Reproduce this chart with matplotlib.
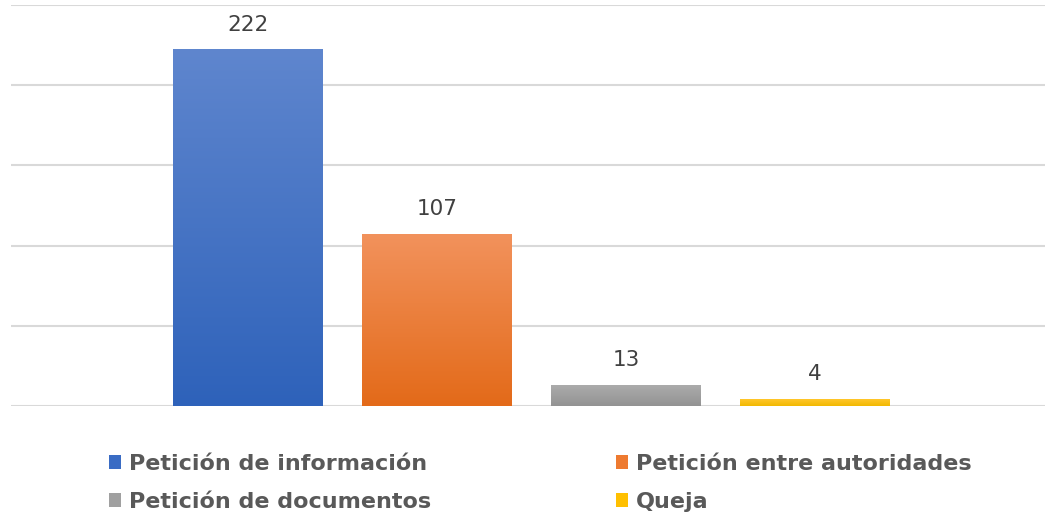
import numpy as np
import matplotlib
matplotlib.use('Agg')
import matplotlib.pyplot as plt
from matplotlib.colors import LinearSegmentedColormap
from matplotlib.patches import Patch

# Datos
series = ['Petición de información', 'Petición entre autoridades',
          'Petición de documentos', 'Queja']
valores = [222, 107, 13, 4]
# colores degradados (arriba, abajo)
colores_top = ['#5F86CE', '#F2925C', '#ABABAB', '#FFC72C']
colores_bottom = ['#2E62BA', '#E36A19', '#939393', '#F2B800']
colores_leyenda = ['#3A6CC4', '#EE7A30', '#A0A0A0', '#FFC000']

fig = plt.figure(figsize=(10.45, 5.17), dpi=100)
ax = fig.add_axes([11 / 1045, 111 / 517, 1 - 11 / 1045, 401 / 517])

ancho = 150 / 189
x = np.arange(len(valores))

for xi, v, ct, cb in zip(x, valores, colores_top, colores_bottom):
    cmap = LinearSegmentedColormap.from_list('g', [cb, ct])
    grad = np.linspace(0, 1, 256).reshape(-1, 1)
    ax.imshow(grad, cmap=cmap, origin='lower', aspect='auto',
              extent=[xi - ancho / 2, xi + ancho / 2, 0, v], zorder=3)
    ax.text(xi, v + 9.5, str(v), ha='center', va='bottom',
            fontsize=15.5, color='#404040', zorder=4)

ax.set_xlim((11 - 248) / 189, (1045 - 248) / 189)
ax.set_ylim(0, 250)
ax.set_yticks(np.arange(0, 251, 50))
ax.yaxis.grid(True, color='#D9D9D9', linewidth=1.5)
ax.set_axisbelow(True)
ax.tick_params(left=False, bottom=False, labelleft=False, labelbottom=False)
for s in ax.spines.values():
    s.set_visible(False)

# leyenda (orden por columnas)
orden = [0, 2, 1, 3]
handles = [Patch(facecolor=colores_leyenda[i], edgecolor='none') for i in orden]
labels = [series[i] for i in orden]
leg = fig.legend(handles, labels, ncol=2, loc='center', bbox_to_anchor=(0.517, 0.066),
                 frameon=False, handlelength=0.55, handleheight=0.55, handletextpad=0.36,
                 columnspacing=8.3, labelspacing=0.8, borderpad=0,
                 prop={'size': 16, 'weight': 'bold'})
for t in leg.get_texts():
    t.set_color('#595959')

fig.savefig('out.png', dpi=100)
